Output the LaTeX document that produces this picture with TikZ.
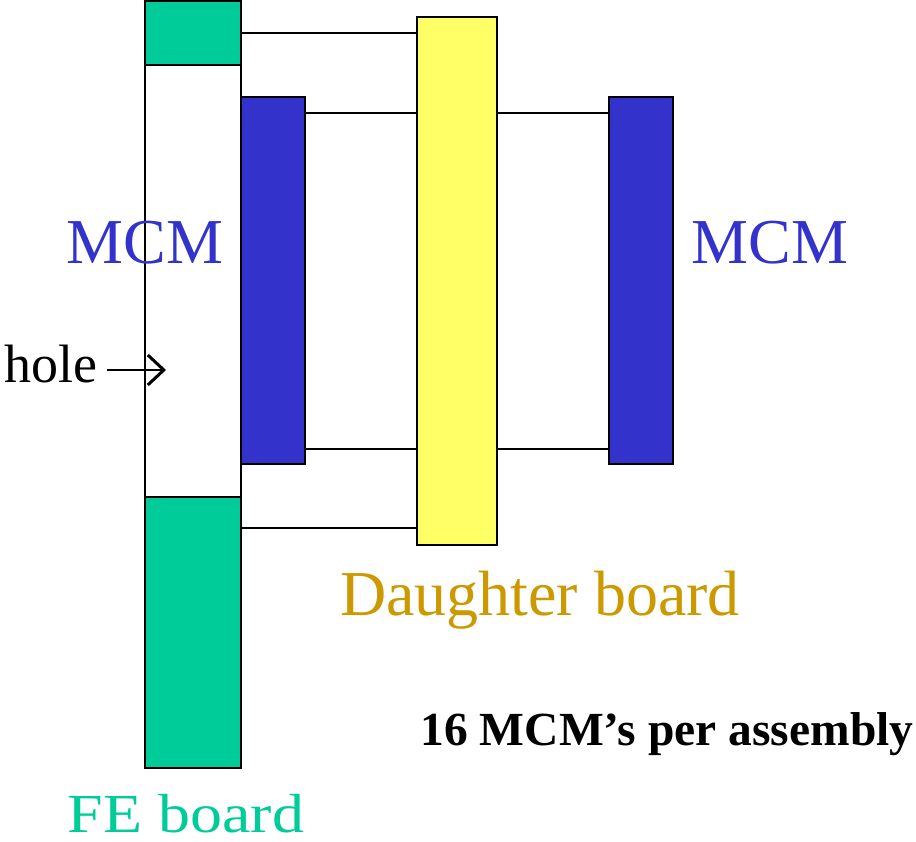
\documentclass[tikz,border=0pt]{standalone}
\usepackage{fontspec}
\setmainfont{Liberation Serif}
\usetikzlibrary{arrows.meta,calc}
\definecolor{feGreen}{HTML}{00CC99}
\definecolor{mcmBlue}{HTML}{3333CC}
\definecolor{dbYellow}{HTML}{FFFF66}
\definecolor{dbGold}{HTML}{CC9900}
\tikzset{
  part/.style={draw=black, line width=1.5pt, inner sep=0pt, outer sep=0pt, anchor=north west},
  wire/.style={draw=black, line width=1.5pt},
  big/.style={font=\fontsize{64}{64}\selectfont, inner sep=0pt, anchor=base},
}
\begin{document}
\begin{tikzpicture}[x=1pt,y=-1pt]
\useasboundingbox (0,0) rectangle (916,842);
% FE board frame
\node[part, fill=white, minimum width=96pt, minimum height=432pt] (frame) at (145,65) {};
\node[part, fill=feGreen, minimum width=96pt, minimum height=64pt] (fetop) at (145,1) {};
\node[part, fill=feGreen, minimum width=96pt, minimum height=271pt] (febot) at (145,497) {};
% MCMs
\node[part, fill=mcmBlue, minimum width=64pt, minimum height=367pt] (lmcm) at (241,97) {};
\node[part, fill=mcmBlue, minimum width=64pt, minimum height=367pt] (rmcm) at (609,97) {};
% Daughter board
\node[part, fill=dbYellow, minimum width=80pt, minimum height=528pt] (db) at (417,17) {};
% connectors
\draw[wire] (fetop.east) -- (fetop.east -| db.west);
\coordinate (l1) at ($(lmcm.north east)+(0,16)$);
\coordinate (l2) at ($(lmcm.south east)+(0,-15)$);
\draw[wire] (l1) -- (l1 -| db.west);
\draw[wire] (l2) -- (l2 -| db.west);
\draw[wire] (l1 -| db.east) -- (l1 -| rmcm.west);
\draw[wire] (l2 -| db.east) -- (l2 -| rmcm.west);
\coordinate (l3) at ($(febot.north east)+(0,31)$);
\draw[wire] (l3) -- (l3 -| db.west);
% labels
\node[big, text=mcmBlue] (mcmL) at (145,264) {MCM};
\node[big, text=mcmBlue] (mcmR) at (770,264) {MCM};
\node[font=\fontsize{54}{54}\selectfont, inner sep=0pt, anchor=base west] (hole) at (4,382) {hole};
\coordinate (holetail) at (107,370);
\coordinate (holetip) at (166,370);
\draw[line width=2.5pt, -{Straight Barb[length=16pt,width=30pt,line width=3pt]}] (holetail) -- (holetip);
\node[big, text=dbGold] (dblabel) at (540,615) {Daughter board};
\node[big, text=feGreen] (felabel) at (186,832) {\scalebox{1}[0.86]{FE board}};
\node[font=\bfseries\fontsize{47.5}{47.5}\selectfont, inner sep=0pt, anchor=base] (note) at (667,745) {16 MCM’s per assembly};
\end{tikzpicture}
\end{document}
